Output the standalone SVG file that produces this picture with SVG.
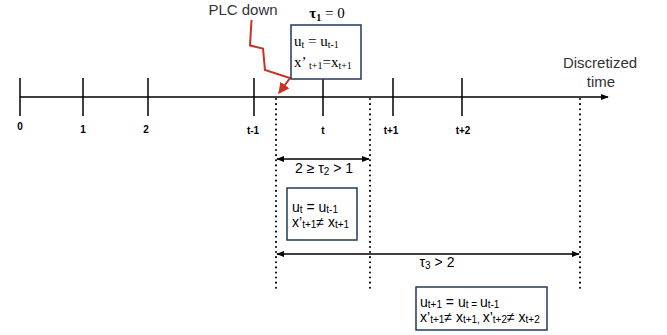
<svg xmlns="http://www.w3.org/2000/svg" width="667" height="335" viewBox="0 0 667 335">
<defs>
<marker id="ah" viewBox="0 0 10 10" refX="9" refY="5" markerWidth="8" markerHeight="8" markerUnits="userSpaceOnUse" orient="auto-start-reverse"><path d="M0,1 L10,5 L0,9 Z" fill="#000"/></marker>
<marker id="ahr" viewBox="0 0 10 10" refX="9" refY="5" markerWidth="11" markerHeight="11" markerUnits="userSpaceOnUse" orient="auto"><path d="M0,0 L10,5 L0,10 Z" fill="#c8321e"/></marker>
<style>
.ax{stroke:#000;stroke-width:1.5;fill:none}
.dot{stroke:#000;stroke-width:2;stroke-dasharray:0.1 5;stroke-linecap:round;fill:none}
.lbl{font-family:"Liberation Sans",Arial,sans-serif;font-size:10px;font-weight:bold;fill:#000;text-anchor:middle}
.box{fill:#fff;stroke:#1f3a5f;stroke-width:1.5}
.ser{font-family:"Liberation Serif","Times New Roman",serif;font-size:15px;fill:#000}
.san{font-family:"Liberation Sans",Arial,sans-serif;font-size:14px;fill:#000}
.lt{font-family:"Liberation Sans",Arial,sans-serif;font-size:15px;fill:#333}
.tau{font-family:"Liberation Sans",Arial,sans-serif;font-size:14px;fill:#000}
</style>
</defs>
<g id="connectors">
<line class="ax" x1="20" y1="97" x2="608" y2="97" marker-end="url(#ah)"/>
<line class="ax" x1="20" y1="78" x2="20" y2="116"/>
<line class="ax" x1="83" y1="78" x2="83" y2="116"/>
<line class="ax" x1="148" y1="78" x2="148" y2="116"/>
<line class="ax" x1="254" y1="78" x2="254" y2="116"/>
<line class="ax" x1="323" y1="78" x2="323" y2="116"/>
<line class="ax" x1="393" y1="78" x2="393" y2="116"/>
<line class="ax" x1="462" y1="78" x2="462" y2="116"/>
<line class="dot" x1="276" y1="99" x2="276" y2="289"/>
<line class="dot" x1="370" y1="99" x2="370" y2="289"/>
<line class="dot" x1="580" y1="99" x2="580" y2="289"/>
<line class="ax" x1="277" y1="159" x2="369" y2="159" marker-start="url(#ah)" marker-end="url(#ah)"/>
<line class="ax" x1="277" y1="254" x2="579" y2="254" marker-start="url(#ah)" marker-end="url(#ah)"/>
<polyline points="251.5,20 250,45.5 263,48.5 265,70 290,78 279,93" fill="none" stroke="#c8321e" stroke-width="2" marker-end="url(#ahr)"/>
</g>
<g id="labels">
<text class="lbl" x="20" y="130">0</text>
<text class="lbl" x="83" y="133">1</text>
<text class="lbl" x="146" y="133">2</text>
<text class="lbl" x="253" y="134">t-1</text>
<text class="lbl" x="323" y="134">t</text>
<text class="lbl" x="391" y="134">t+1</text>
<text class="lbl" x="463" y="134">t+2</text>
<text class="lt" x="600" y="68" text-anchor="middle">Discretized</text>
<text class="lt" x="601" y="87" text-anchor="middle">time</text>
<text class="lt" x="243" y="15" text-anchor="middle">PLC down</text>
<text class="ser" x="327" y="18" text-anchor="middle" font-weight="bold" font-size="16">τ<tspan font-size="10" dy="3">1</tspan><tspan dy="-3" font-weight="normal"> = 0</tspan></text>
<text class="tau" x="324" y="173" text-anchor="middle">2 ≥ τ<tspan font-size="10" dy="2">2</tspan><tspan dy="-2"> &gt; 1</tspan></text>
<text class="tau" x="437" y="267" text-anchor="middle">τ<tspan font-size="10" dy="2">3</tspan><tspan dy="-2"> &gt; 2</tspan></text>
</g>
<g id="box1">
<rect class="box" x="291" y="25" width="70" height="54"/>
<text class="ser" x="294" y="46">u<tspan font-size="10" dy="2">t</tspan><tspan dy="-2"> = u</tspan><tspan font-size="10" dy="2">t-1</tspan></text>
<text class="ser" x="294" y="67">x’<tspan font-size="10" dy="2"> t+1</tspan><tspan dy="-2">=x</tspan><tspan font-size="10" dy="2">t+1</tspan></text>
</g>
<g id="box2">
<rect class="box" x="287" y="188" width="70" height="52"/>
<text class="san" x="292" y="212">u<tspan font-size="10" dy="1">t</tspan><tspan dy="-1"> = u</tspan><tspan font-size="10" dy="1">t-1</tspan></text>
<text class="san" x="292" y="227">x’<tspan font-size="10" dy="1">t+1</tspan><tspan dy="-1">≠ x</tspan><tspan font-size="10" dy="1">t+1</tspan></text>
</g>
<g id="box3">
<rect class="box" x="416" y="287" width="131" height="43"/>
<text class="san" x="420" y="307">u<tspan font-size="10" dy="1">t+1</tspan><tspan dy="-1"> = u</tspan><tspan font-size="10" dy="1">t = </tspan><tspan dy="-1">u</tspan><tspan font-size="10" dy="1">t-1</tspan></text>
<text class="san" x="420" y="322">x’<tspan font-size="10" dy="1">t+1</tspan><tspan dy="-1">≠ x</tspan><tspan font-size="10" dy="1">t+1, </tspan><tspan dy="-1">x’</tspan><tspan font-size="10" dy="1">t+2</tspan><tspan dy="-1">≠ x</tspan><tspan font-size="10" dy="1">t+2</tspan></text>
</g>
</svg>
